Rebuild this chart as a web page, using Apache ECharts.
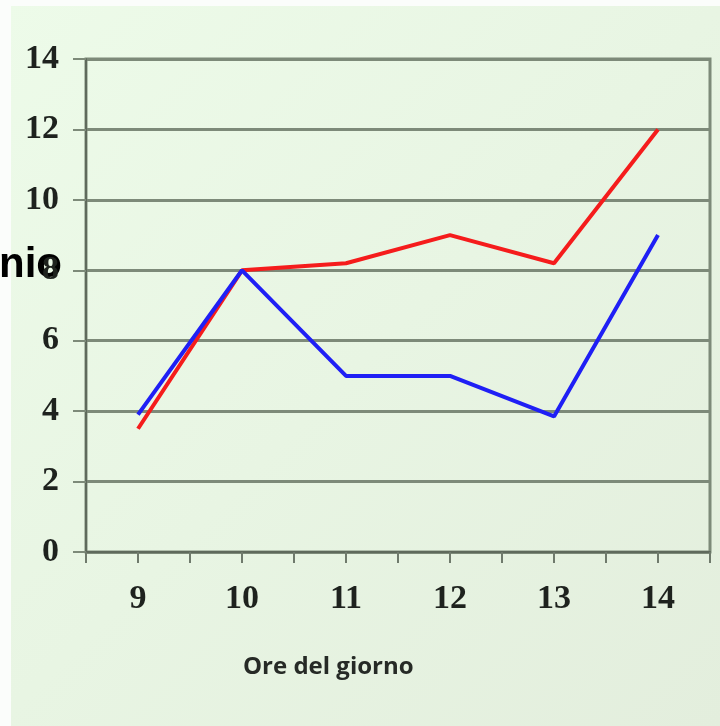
<!DOCTYPE html>
<html>
<head>
<meta charset="utf-8">
<script src="https://cdn.jsdelivr.net/npm/echarts@6/dist/echarts.min.js"></script>
<style>
  html, body { margin: 0; padding: 0; background: #ffffff; }
  #chart { width: 720px; height: 726px; }
</style>
</head>
<body>
<div id="chart"></div>
<script>
// Hours of the day on the x axis
const hours = ['9', '10', '11', '12', '13', '14'];
// Two measured series
const redValues = [3.5, 8, 8.2, 9, 8.2, 12];
const blueValues = [3.9, 8, 5.0, 5.0, 3.85, 9];
// Y axis range
const yMin = 0;
const yMax = 14;
const yStep = 2;
const xTitle = 'Ore del giorno';
const sideLabel = 'nio';

const gridColor = '#7d8a79';
const axisFont = {
  fontFamily: '"Liberation Serif", "DejaVu Serif", serif',
  fontWeight: 'bold',
  fontSize: 34,
  color: '#1e221e'
};

const chart = echarts.init(document.getElementById('chart'), null, { renderer: 'canvas' });

chart.setOption({
  animation: false,
  backgroundColor: {
    type: 'linear', x: 0, y: 0, x2: 1, y2: 1,
    colorStops: [
      { offset: 0, color: '#edfbe9' },
      { offset: 0.5, color: '#e8f5e3' },
      { offset: 1, color: '#e3eedd' }
    ]
  },
  graphic: [
    { type: 'rect', left: 0, top: 0, shape: { width: 720, height: 6 }, style: { fill: '#fbfdfb' }, z: -1 },
    { type: 'rect', left: 0, top: 0, shape: { width: 11, height: 726 }, style: { fill: '#fbfdfb' }, z: -1 },
    {
      type: 'text', left: 243, top: 655,
      style: {
        text: xTitle,
        font: 'bold 24px "Open Sans", "Noto Sans", sans-serif',
        fill: '#262a26'
      }
    },
    {
      type: 'text', right: 658, top: 244,
      style: {
        text: sideLabel,
        font: 'bold 42px "Liberation Sans", Arial, sans-serif',
        fill: '#000000'
      }
    }
  ],
  grid: {
    left: 86, right: 10, top: 59, bottom: 174,
    show: true,
    borderColor: gridColor,
    borderWidth: 3,
    backgroundColor: 'transparent'
  },
  xAxis: [
    {
      type: 'category',
      data: hours,
      position: 'bottom',
      boundaryGap: true,
      axisLine: { show: true, lineStyle: { color: '#5f6a5c', width: 2 } },
      axisTick: { show: true, alignWithLabel: false, length: 11, lineStyle: { color: '#6f7a6c', width: 2 } },
      axisLabel: Object.assign({ margin: 30 }, axisFont),
      splitLine: { show: false }
    },
    {
      type: 'category',
      data: hours,
      position: 'bottom',
      offset: 0,
      boundaryGap: true,
      axisLine: { show: false },
      axisTick: { show: true, alignWithLabel: true, length: 11, lineStyle: { color: '#6f7a6c', width: 2 } },
      axisLabel: { show: false },
      splitLine: { show: false }
    }
  ],
  yAxis: {
    type: 'value',
    min: yMin,
    max: yMax,
    interval: yStep,
    axisLine: { show: true, lineStyle: { color: '#5f6a5c', width: 2 } },
    axisTick: { show: true, length: 13, lineStyle: { color: '#7d8a79', width: 2 } },
    axisLabel: Object.assign({ margin: 27 }, axisFont),
    splitLine: { show: true, lineStyle: { color: gridColor, width: 3 } }
  },
  series: [
    {
      type: 'line',
      data: blueValues,
      xAxisIndex: 0,
      symbol: 'none',
      lineStyle: { color: '#1f1ff5', width: 4 },
      z: 3
    },
    {
      type: 'line',
      data: redValues,
      xAxisIndex: 0,
      symbol: 'none',
      lineStyle: { color: '#f51c1c', width: 4 },
      z: 2
    }
  ]
});
</script>
</body>
</html>
